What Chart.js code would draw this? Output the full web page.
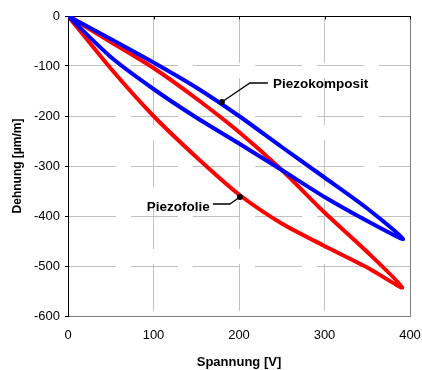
<!DOCTYPE html>
<html><head><meta charset="utf-8">
<script src="https://cdn.jsdelivr.net/npm/chart.js@4/dist/chart.umd.min.js"></script>
<style>html,body{margin:0;padding:0;background:#fff;}</style>
</head><body>
<canvas id="c" width="422" height="370"></canvas>
<script>
// Spannung [V] / Dehnung [µm/m] — each series is one closed hysteresis loop
const folieV = [0, 50, 100, 150, 200, 250, 300, 350, 391, 350, 300, 250, 200, 150, 100, 50, 0];
const folieD = [0, -105, -200, -282, -357, -415, -460, -503, -543, -472, -393, -308, -232, -165, -104, -52, 0];
const kompositV = [0, 50, 100, 150, 200, 250, 300, 350, 392, 350, 300, 250, 200, 150, 100, 50, 0];
const kompositD = [0, -46, -93, -143, -200, -262, -323, -385, -446, -410, -362, -308, -255, -203, -146, -82, 0];

const xTicks = [0, 100, 200, 300, 400];
const yTicks = [-600, -500, -400, -300, -200, -100, 0];

const noteLabels = ['Piezokomposit', 'Piezofolie'];
const noteV = [180, 201];
const noteD = [-172, -362];

const toPts = (v, d) => v.map((x, i) => ({x: x, y: d[i]}));

const framePlugin = {
  id: 'frame',
  beforeDatasetsDraw(chart) {
    const {ctx, chartArea: a, scales: {x, y}} = chart;
    ctx.save();
    ctx.lineWidth = 1;
    ctx.strokeStyle = '#808080';
    ctx.beginPath();
    ctx.moveTo(a.right + 0.5, a.top);
    ctx.lineTo(a.right + 0.5, a.bottom);
    ctx.stroke();
    const y0 = Math.round(y.getPixelForValue(0)) + 0.5;
    ctx.strokeStyle = '#000';
    ctx.beginPath();
    ctx.moveTo(a.left, y0);
    ctx.lineTo(a.right + 1, y0);
    xTicks.forEach(t => {
      const px = Math.round(x.getPixelForValue(t)) + 0.5;
      ctx.moveTo(px, y0);
      ctx.lineTo(px, y0 + 3);
    });
    ctx.stroke();
    ctx.restore();
  },
  afterDatasetsDraw(chart) {
    const {ctx, scales: {x, y}} = chart;
    ctx.save();
    ctx.fillStyle = '#000';
    ctx.strokeStyle = '#000';
    ctx.lineWidth = 1.3;
    ctx.font = 'bold 13.5px "Liberation Sans", Arial, sans-serif';
    ctx.textBaseline = 'middle';
    noteLabels.forEach((lbl, i) => {
      const px = x.getPixelForValue(noteV[i]);
      const py = y.getPixelForValue(noteD[i]);
      ctx.beginPath();
      ctx.arc(px, py, 3, 0, Math.PI * 2);
      ctx.fill();
      ctx.beginPath();
      if (i === 0) {
        ctx.moveTo(px, py);
        ctx.lineTo(px + 28, py - 19);
        ctx.lineTo(px + 46, py - 19);
        ctx.stroke();
        ctx.textAlign = 'left';
        ctx.fillText(lbl, px + 51, py - 18);
      } else {
        ctx.moveTo(px, py);
        ctx.lineTo(px - 10, py + 7);
        ctx.lineTo(px - 27, py + 7);
        ctx.stroke();
        ctx.textAlign = 'right';
        ctx.fillText(lbl, px - 30, py + 10);
      }
    });
    ctx.restore();
  }
};

const tickFont = {family: '"Liberation Sans", Arial, sans-serif', size: 13};

new Chart(document.getElementById('c'), {
  type: 'scatter',
  data: {
    datasets: [
      {label: 'Piezokomposit', data: toPts(kompositV, kompositD), showLine: true,
       borderColor: '#0000FF', backgroundColor: '#0000FF', borderWidth: 4, pointRadius: 0, tension: 0.25, fill: false},
      {label: 'Piezofolie', data: toPts(folieV, folieD), showLine: true,
       borderColor: '#FF0000', backgroundColor: '#FF0000', borderWidth: 4, pointRadius: 0, tension: 0.25, fill: false}
    ]
  },
  options: {
    responsive: false,
    animation: false,
    devicePixelRatio: 1,
    layout: {padding: {top: 16, right: 0, left: 0, bottom: 0}},
    plugins: {legend: {display: false}, tooltip: {enabled: false}},
    scales: {
      x: {
        type: 'linear', position: 'bottom', min: 0, max: 400,
        afterFit: s => { s.height = 54; s.paddingRight = 12; s.paddingLeft = 0; },
        afterBuildTicks: s => { s.ticks = xTicks.map(v => ({value: v})); },
        ticks: {font: tickFont, color: '#000', padding: 12, maxRotation: 0},
        grid: {color: '#c0c0c0', lineWidth: 1, tickLength: 0, drawTicks: false, tickBorderDash: []},
        border: {display: true, color: '#808080', width: 1, dash: [47, 15]},
        title: {display: true, text: 'Spannung [V]', color: '#000',
                font: {family: '"Liberation Sans", Arial, sans-serif', size: 13, weight: 'bold'},
                padding: {top: 0, bottom: 0}}
      },
      y: {
        type: 'linear', position: 'left', min: -600, max: 0,
        afterFit: s => { s.width = 68; },
        afterBuildTicks: s => { s.ticks = yTicks.map(v => ({value: v})); },
        ticks: {font: tickFont, color: '#000', padding: 5},
        grid: {color: '#c0c0c0', lineWidth: 1, tickLength: 3, tickColor: '#000', tickBorderDash: []},
        border: {display: true, color: '#000', width: 1, dash: [47, 15]},
        title: {display: true, text: 'Dehnung [µm/m]', color: '#000',
                font: {family: '"Liberation Sans", Arial, sans-serif', size: 12, weight: 'bold'},
                padding: {top: 10, bottom: 0}}
      }
    }
  },
  plugins: [framePlugin]
});
</script>
</body></html>
